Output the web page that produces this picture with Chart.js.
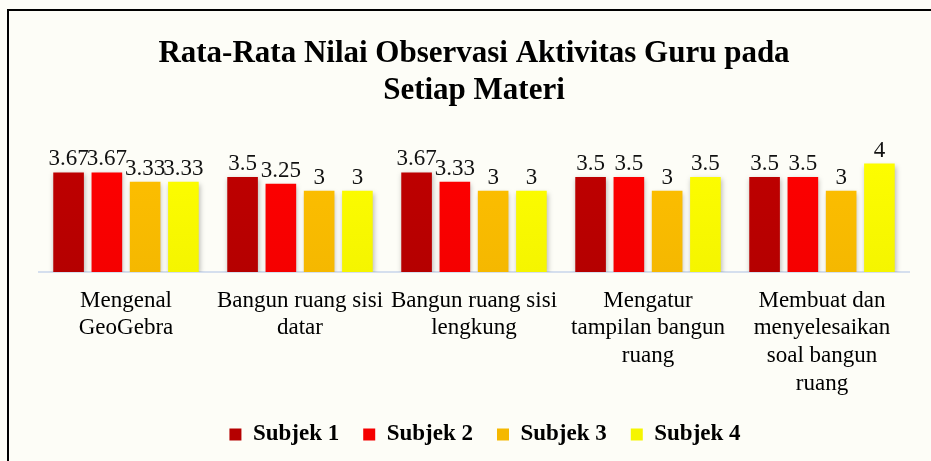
<!DOCTYPE html>
<html>
<head>
<meta charset="utf-8">
<script src="https://cdn.jsdelivr.net/npm/chart.js@4"></script>
<style>
  html, body { margin: 0; padding: 0; background: #fdfdf7; }
  #c { display: block; }
</style>
</head>
<body>
<canvas id="c" width="931" height="461"></canvas>
<script>
const titleLines = ['Rata-Rata Nilai Observasi Aktivitas Guru pada', 'Setiap Materi'];
const categories = [
  ['Mengenal', 'GeoGebra'],
  ['Bangun ruang sisi', 'datar'],
  ['Bangun ruang sisi', 'lengkung'],
  ['Mengatur', 'tampilan bangun', 'ruang'],
  ['Membuat dan', 'menyelesaikan', 'soal bangun', 'ruang']
];
const seriesNames = ['Subjek 1', 'Subjek 2', 'Subjek 3', 'Subjek 4'];
const subjek1 = [3.67, 3.5, 3.67, 3.5, 3.5];
const subjek2 = [3.67, 3.25, 3.33, 3.5, 3.5];
const subjek3 = [3.33, 3, 3, 3, 3];
const subjek4 = [3.33, 3, 3, 3.5, 4];
const seriesValues = [subjek1, subjek2, subjek3, subjek4];

const colors = ['#C00000', '#FF0000', '#FFC000', '#FFFF00'];
const colorsDark = ['#B50000', '#F50000', '#F5B800', '#F5F500'];

function gradientFor(i) {
  return function (c) {
    const chart = c.chart;
    const a = chart.chartArea;
    if (!a) return colors[i];
    const g = chart.ctx.createLinearGradient(0, a.top, 0, a.bottom);
    g.addColorStop(0, colors[i]);
    g.addColorStop(1, colorsDark[i]);
    return g;
  };
}

const bgPlugin = {
  id: 'bg',
  beforeDraw(chart) {
    const ctx = chart.ctx;
    ctx.save();
    ctx.fillStyle = '#fdfdf7';
    ctx.fillRect(0, 0, chart.width, chart.height);
    ctx.fillStyle = '#000';
    ctx.fillRect(7, 9, 2, chart.height - 9);
    ctx.fillRect(7, 9, chart.width - 7, 2);
    ctx.restore();
  }
};

const legendShift = {
  id: 'legendShift',
  afterLayout(chart) {
    if (chart.legend) {
      chart.legend.left += 11;
      chart.legend.right += 11;
    }
  }
};

const shadowPlugin = {
  id: 'shadow',
  beforeDatasetDraw(chart) {
    const ctx = chart.ctx;
    ctx.save();
    ctx.shadowColor = 'rgba(0,0,0,0.28)';
    ctx.shadowBlur = 5;
    ctx.shadowOffsetX = 1;
    ctx.shadowOffsetY = 2;
  },
  afterDatasetDraw(chart) {
    chart.ctx.restore();
  }
};

const labelPlugin = {
  id: 'valueLabels',
  afterDatasetsDraw(chart) {
    const ctx = chart.ctx;
    ctx.save();
    ctx.font = '23px "Liberation Serif"';
    ctx.fillStyle = '#111';
    ctx.textAlign = 'center';
    ctx.textBaseline = 'alphabetic';
    chart.data.datasets.forEach((ds, i) => {
      const meta = chart.getDatasetMeta(i);
      meta.data.forEach((bar, j) => {
        ctx.fillText(String(ds.data[j]), bar.x, bar.y - 7);
      });
    });
    ctx.restore();
  }
};

new Chart(document.getElementById('c'), {
  type: 'bar',
  data: {
    labels: categories,
    datasets: seriesNames.map((name, i) => ({
      label: name,
      data: seriesValues[i],
      backgroundColor: gradientFor(i),
      borderWidth: 0,
      categoryPercentage: 0.88,
      barPercentage: 0.8
    }))
  },
  options: {
    responsive: false,
    devicePixelRatio: 1,
    animation: false,
    layout: { padding: { left: 39, right: 22, top: 0, bottom: 5 } },
    plugins: {
      title: {
        display: true,
        text: titleLines,
        color: '#000',
        font: { family: 'Liberation Serif', size: 31, weight: 'bold', lineHeight: 1.2 },
        padding: { top: 35, bottom: 27 }
      },
      legend: {
        position: 'bottom',
        labels: {
          boxWidth: 12,
          boxHeight: 12,
          color: '#000',
          padding: 24,
          font: { family: 'Liberation Serif', size: 23, weight: 'bold' }
        }
      },
      tooltip: { enabled: false }
    },
    scales: {
      x: {
        grid: { display: false, drawTicks: false },
        border: { display: true, color: '#d5dfee', width: 2 },
        ticks: {
          color: '#000',
          padding: 15,
          maxRotation: 0,
          autoSkip: false,
          font: { family: 'Liberation Serif', size: 23, lineHeight: 1.2 }
        },
        afterFit(scale) { scale.height = 127; }
      },
      y: {
        display: false,
        min: 0,
        max: 5
      }
    }
  },
  plugins: [bgPlugin, legendShift, shadowPlugin, labelPlugin]
});
</script>
</body>
</html>
